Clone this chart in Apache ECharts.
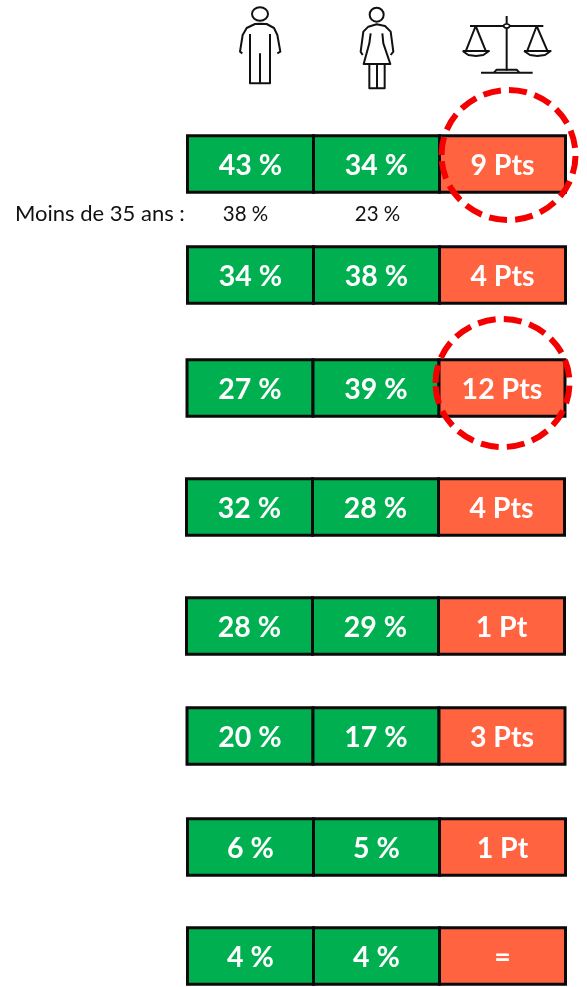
<!DOCTYPE html>
<html>
<head>
  <meta charset="utf-8">
  <title>Ecarts hommes femmes</title>
  <script src="https://cdn.jsdelivr.net/npm/echarts@6/dist/echarts.min.js"></script>
  <style>
  html, body { margin: 0; background: #fff; }
  #main { width: 587px; height: 987px; }
  </style>
</head>
<body>
  <div id="main"></div>
  <script type="text/javascript">
  // values
  var columns = ['Hommes', 'Femmes', 'Ecart'];
  var menPct = [43, 34, 27, 32, 28, 20, 6, 4];
  var womenPct = [34, 38, 39, 28, 29, 17, 5, 4];
  var gapPts = [9, 4, 12, 4, 1, 3, 1, 0];
  var under35Label = 'Moins de 35 ans :';
  var under35Pct = [38, 23];
  var circledRows = [0, 2];

  // layout only
  var rowCenter = [164, 275, 388, 507, 626, 736, 847, 956];
  var rowShift = [0, 0, -0.5, -1, -1, -0.5, 0, 0];
  var rowHeight = 56.5;
  var under35Y = 214;
  var under35Dx = [-5, 1];
  var circleLayout = [
    { dx: 6, dy: -9, rx: 67, ry: 65 },
    { dx: 0, dy: -5, rx: 67, ry: 64 }
  ];

  var GREEN = '#00B050', ORANGE = '#FF6340', INK = '#111111';

  function gapText(v) {
    if (v === 0) return '=';
    return v === 1 ? '1 Pt' : v + ' Pts';
  }

  var cells = [];
  menPct.forEach(function (v, i) {
    cells.push([0, i, v + ' %']);
    cells.push([1, i, womenPct[i] + ' %']);
    cells.push([2, i, gapText(gapPts[i])]);
  });

  function renderCell(params, api) {
    var col = api.value(0), row = api.value(1);
    var c = api.coord([col, rowCenter[row]]);
    var w = api.size([1, 0])[0];
    var x = c[0] - w / 2 + rowShift[row];
    return {
      type: 'group',
      children: [{
        type: 'rect',
        shape: { x: x, y: c[1] - rowHeight / 2, width: w, height: rowHeight },
        style: { fill: col === 2 ? ORANGE : GREEN, stroke: '#0a0a0a', lineWidth: 3 }
      }, {
        type: 'text',
        z2: 5,
        style: {
          text: cells[params.dataIndex][2],
          x: x + w / 2,
          y: c[1] + 1.5,
          fill: '#fff',
          font: 'bold 28.5px Lato',
          align: 'center',
          verticalAlign: 'middle'
        }
      }]
    };
  }

  function renderCircle(params, api) {
    var row = api.value(1);
    var c = api.coord([2, rowCenter[row]]);
    var l = circleLayout[params.dataIndex];
    return {
      type: 'ellipse',
      z2: 20,
      shape: { cx: c[0] + l.dx, cy: c[1] + l.dy, rx: l.rx, ry: l.ry },
      style: { fill: 'none', stroke: '#F40000', lineWidth: 6, lineDash: [18, 8] }
    };
  }

  function renderUnder35(params, api) {
    var c = api.coord([api.value(0), under35Y]);
    return {
      type: 'text',
      style: {
        text: under35Pct[params.dataIndex] + ' %',
        x: c[0] + under35Dx[params.dataIndex],
        y: c[1],
        fill: '#111',
        font: '20.5px Lato',
        align: 'center',
        verticalAlign: 'middle'
      }
    };
  }

  // the three pictograms, drawn at 3x and scaled down
  var line = { fill: 'none', stroke: INK, lineWidth: 6, lineJoin: 'round' };
  function poly(pts) {
    return { type: 'polyline', shape: { points: pts }, style: line };
  }
  var icons = {
    type: 'group', x: 220, y: 0, scaleX: 1 / 3, scaleY: 1 / 3,
    children: [
      // man
      { type: 'ellipse', shape: { cx: 120, cy: 42, rx: 24, ry: 20 }, style: line },
      poly([[67,160],[60,155],[68,105],[80,84],[105,72],[120,71],[140,72],[162,84],[172,105],[181,155],[172,160]]),
      poly([[90,102],[90,250],[150,250],[150,102]]),
      poly([[120,160],[120,250]]),
      // woman
      { type: 'circle', shape: { cx: 470, cy: 44, r: 21 }, style: line },
      poly([[428,165],[422,155],[430,95],[445,80],[470,73],[495,78],[512,95],[520,155],[512,165]]),
      poly([[452,100],[448,130],[431,192],[511,192],[490,130],[487,100]]),
      poly([[448,192],[448,265],[494,265],[494,192]]),
      poly([[471,192],[471,265]]),
      // scales
      poly([[860,48],[860,212]]),
      poly([[750,78],[970,78]]),
      { type: 'ellipse', z: 2, shape: { cx: 860, cy: 78, rx: 9, ry: 6 }, style: { fill: '#fff', stroke: INK, lineWidth: 5 } },
      poly([[738,152],[767,78],[797,152]]),
      poly([[922,152],[950,78],[982,152]]),
      poly([[728,153],[745,165],[768,168],[790,165],[807,153],[728,153]]),
      poly([[912,153],[930,165],[952,168],[975,165],[992,153],[912,153]]),
      poly([[783,218],[938,218]]),
      poly([[822,218],[830,209],[890,209],[898,218]])
    ]
  };

  var myChart = echarts.init(document.getElementById('main'), null, { renderer: 'canvas' });
  myChart.setOption({
    animation: false,
    backgroundColor: '#fff',
    grid: { left: 187.5, right: 21.5, top: 0, bottom: 0 },
    xAxis: { type: 'category', data: columns, show: false },
    yAxis: { type: 'value', min: 0, max: 987, inverse: true, show: false },
    graphic: [icons, {
      type: 'text', left: 15, top: 203,
      style: { text: under35Label, fill: '#111', font: '22px Lato' }
    }],
    series: [
      { type: 'custom', data: cells.map(function (d) { return [d[0], d[1]]; }), renderItem: renderCell, clip: false },
      { type: 'custom', data: under35Pct.map(function (v, i) { return [i, v]; }), renderItem: renderUnder35, clip: false },
      { type: 'custom', z: 5, data: circledRows.map(function (r) { return [2, r]; }), renderItem: renderCircle, clip: false }
    ]
  });
  window.onresize = myChart.resize;
  </script>
</body>
</html>
